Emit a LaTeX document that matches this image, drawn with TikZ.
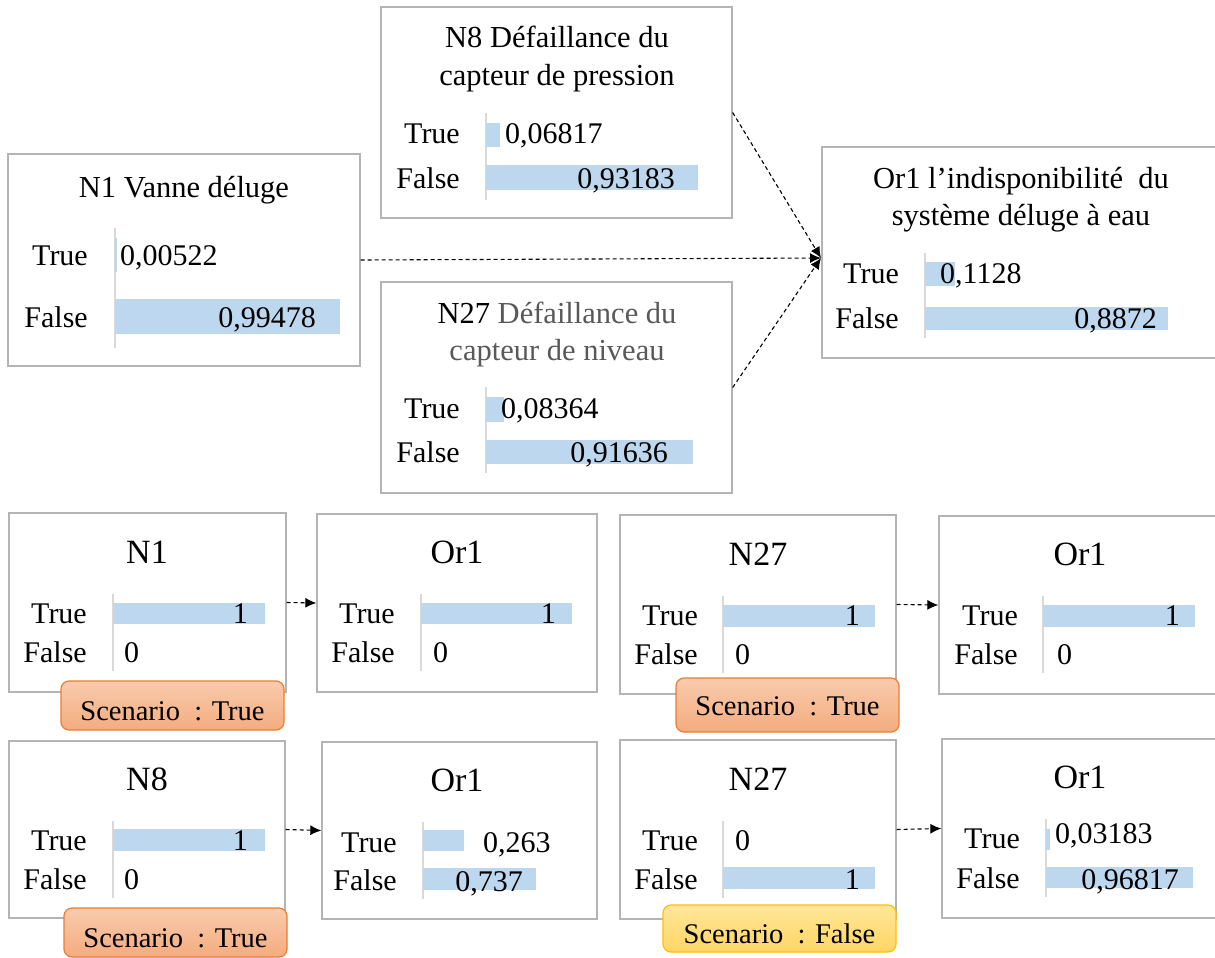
\documentclass[tikz,border=0pt]{standalone}
\usepackage{fontspec}
\setmainfont{Liberation Serif}
\usepackage{tikz}
\usetikzlibrary{arrows.meta,positioning}
\usepackage{xcolor}

\definecolor{boxgray}{RGB}{180,180,180}
\definecolor{axisgray}{RGB}{217,217,217}
\definecolor{barblue}{RGB}{189,215,238}
\definecolor{txtgray}{RGB}{89,89,89}
\definecolor{orangeline}{RGB}{237,125,49}
\definecolor{orangetop}{RGB}{248,203,173}
\definecolor{orangebot}{RGB}{244,172,126}
\definecolor{yellowline}{RGB}{255,192,0}
\definecolor{yellowtop}{RGB}{255,230,153}
\definecolor{yellowbot}{RGB}{255,214,100}

\tikzset{
  panel/.style={draw=boxgray, line width=1.3pt, fill=white, inner sep=0pt},
  headtxt/.style={font=\fontsize{30.5}{36}\selectfont, inner sep=0pt, anchor=base},
  bighead/.style={font=\fontsize{34}{40}\selectfont, inner sep=0pt, anchor=base},
  lbl/.style={font=\fontsize{30}{35}\selectfont, inner sep=0pt, anchor=base east},
  valr/.style={font=\fontsize{30}{35}\selectfont, inner sep=0pt, anchor=base east},
  vall/.style={font=\fontsize{30}{35}\selectfont, inner sep=0pt, anchor=base west},
  probbar/.style={fill=barblue},
  probaxis/.style={draw=axisgray, line width=1.4pt},
  link/.style={dash pattern=on 4pt off 3pt, line width=1.1pt, -{Latex[length=11pt,width=10pt]}},
  tagtrue/.style={draw=orangeline, line width=1.2pt, rounded corners=8pt, top color=orangetop, bottom color=orangebot, font=\fontsize{28.5}{34}\selectfont, inner sep=0pt},
  tagfalse/.style={draw=yellowline, line width=1.2pt, rounded corners=8pt, top color=yellowtop, bottom color=yellowbot, font=\fontsize{28.5}{34}\selectfont, inner sep=0pt}
}

\begin{document}
\begin{tikzpicture}[x=1pt, y=-1pt]
    \fill[white] (0,0) rectangle (1215,958);
    \useasboundingbox (0,0) rectangle (1215,958);

    % N1
    \node[panel, minimum width=352pt, minimum height=212pt] (n1) at (184,260) {};
    \node[headtxt] (n1t) at (184,197) {N1 Vanne déluge};
    \node[lbl] (n1y) at (88,265) {True};
    \node[lbl] (n1n) at (88,327) {False};
    \draw[probaxis] (115,228) -- (115,348);
    \fill[probbar] (115,238) rectangle (117,272);
    \fill[probbar] (115,299) rectangle (340,334);
    \node[vall] (n1yv) at (120,265) {0,00522};
    \node[valr] (n1nv) at (316,327) {0,99478};

    % N8
    \node[panel, minimum width=351pt, minimum height=211pt] (n8) at (556.5,112.5) {};
    \node[headtxt] (n8t) at (557,48) {N8 Défaillance du};
    \node[headtxt] (n8t2) at (557,85) {capteur de pression};
    \node[lbl] (n8y) at (460,143) {True};
    \node[lbl] (n8n) at (460,188) {False};
    \draw[probaxis] (486,113) -- (486,200);
    \fill[probbar] (486,123) rectangle (500,147);
    \fill[probbar] (486,165) rectangle (698,190);
    \node[vall] (n8yv) at (505,143) {0,06817};
    \node[valr] (n8nv) at (675,188) {0,93183};

    % N27
    \node[panel, minimum width=351pt, minimum height=211pt] (n27) at (556.5,387.5) {};
    \node[headtxt] (n27t) at (557,323) {N27 \textcolor{txtgray}{Défaillance du}};
    \node[headtxt, text=txtgray] (n27t2) at (557,360) {capteur de niveau};
    \node[lbl] (n27y) at (460,418) {True};
    \node[lbl] (n27n) at (460,462) {False};
    \draw[probaxis] (486,387) -- (486,473);
    \fill[probbar] (486,397) rectangle (504,422);
    \fill[probbar] (486,440) rectangle (693,464);
    \node[vall] (n27yv) at (501,418) {0,08364};
    \node[valr] (n27nv) at (668,462) {0,91636};

    % Or1
    \node[panel, minimum width=398pt, minimum height=211pt] (or1) at (1021,252.5) {};
    \node[headtxt] (or1t) at (1021,188) {Or1 l’indisponibilité~ du};
    \node[headtxt] (or1t2) at (1021,225) {système déluge à eau};
    \node[lbl] (or1y) at (899,283) {True};
    \node[lbl] (or1n) at (899,328) {False};
    \draw[probaxis] (925,253) -- (925,338);
    \fill[probbar] (925,262) rectangle (955,286);
    \fill[probbar] (925,307) rectangle (1168,330);
    \node[vall] (or1yv) at (940,283) {0,1128};
    \node[valr] (or1nv) at (1157,328) {0,8872};

    \coordinate (or1in) at (821,258);
    \draw[link] (n1.east) -- (or1in);
    \draw[link] (n8.east) -- (or1in);
    \draw[link] (n27.east) -- (or1in);

    % scenario N1 = True
    \node[panel, minimum width=277pt, minimum height=179pt] (n1a) at (147.5,602.5) {};
    \node[bighead] (n1at) at (147,563) {N1};
    \node[lbl] (n1ay) at (87,623) {True};
    \node[lbl] (n1an) at (87,662) {False};
    \draw[probaxis] (113,594) -- (113,671);
    \fill[probbar] (113,603) rectangle (265,624);
    \node[valr] (n1ayv) at (248,623) {1};
    \node[vall] (n1anv) at (124,662) {0};
    \node[tagtrue, minimum width=223pt, minimum height=49pt, text height=29pt, text depth=0pt] (tag1) at (172.5,705.5) {Scenario~ : True};

    \node[panel, minimum width=280pt, minimum height=178pt] (or1a) at (457,603) {};
    \node[bighead] (or1at) at (457,563) {Or1};
    \node[lbl] (or1ay) at (395,623) {True};
    \node[lbl] (or1an) at (395,662) {False};
    \draw[probaxis] (421,594) -- (421,671);
    \fill[probbar] (421,603) rectangle (572,624);
    \node[valr] (or1ayv) at (556,623) {1};
    \node[vall] (or1anv) at (433,662) {0};

    \draw[link] (n1a.east) -- (or1a.west);

    % scenario N27 = True
    \node[panel, minimum width=276pt, minimum height=179pt] (n27a) at (758,604.5) {};
    \node[bighead] (n27at) at (758,565) {N27};
    \node[lbl] (n27ay) at (698,625) {True};
    \node[lbl] (n27an) at (698,664) {False};
    \draw[probaxis] (723,596) -- (723,673);
    \fill[probbar] (723,605) rectangle (875,627);
    \node[valr] (n27ayv) at (860,625) {1};
    \node[vall] (n27anv) at (735,664) {0};
    \node[tagtrue, minimum width=223pt, minimum height=54pt, text height=21pt, text depth=0pt] (tag2) at (787.5,705) {Scenario~ : True};

    \node[panel, minimum width=279pt, minimum height=178pt] (or1b) at (1078.5,605) {};
    \node[bighead] (or1bt) at (1080,565) {Or1};
    \node[lbl] (or1by) at (1018,625) {True};
    \node[lbl] (or1bn) at (1018,664) {False};
    \draw[probaxis] (1043,596) -- (1043,673);
    \fill[probbar] (1043,605) rectangle (1195,627);
    \node[valr] (or1byv) at (1180,625) {1};
    \node[vall] (or1bnv) at (1057,664) {0};

    \draw[link] (n27a.east) -- (or1b.west);

    % scenario N8 = True
    \node[panel, minimum width=276pt, minimum height=177pt] (n8a) at (147,829.5) {};
    \node[bighead] (n8at) at (147,790) {N8};
    \node[lbl] (n8ay) at (87,850) {True};
    \node[lbl] (n8an) at (87,889) {False};
    \draw[probaxis] (113,821) -- (113,898);
    \fill[probbar] (113,829) rectangle (265,851);
    \node[valr] (n8ayv) at (248,850) {1};
    \node[vall] (n8anv) at (124,889) {0};
    \node[tagtrue, minimum width=223pt, minimum height=49pt, text height=29pt, text depth=0pt] (tag3) at (175.5,932.5) {Scenario~ : True};

    \node[panel, minimum width=275pt, minimum height=177pt] (or1c) at (459.5,830.5) {};
    \node[bighead] (or1ct) at (457,791) {Or1};
    \node[lbl] (or1cy) at (397,852) {True};
    \node[lbl] (or1cn) at (397,890) {False};
    \draw[probaxis] (423,822) -- (423,899);
    \fill[probbar] (423,830) rectangle (464,851);
    \fill[probbar] (423,868) rectangle (536,890);
    \node[vall] (or1cyv) at (483,852) {0,263};
    \node[valr] (or1cnv) at (523,891) {0,737};

    \draw[link] (n8a.east) -- (or1c.west);

    % scenario N27 = False
    \node[panel, minimum width=276pt, minimum height=179pt] (n27b) at (758,829.5) {};
    \node[bighead] (n27bt) at (758,790) {N27};
    \node[lbl] (n27by) at (698,850) {True};
    \node[lbl] (n27bn) at (698,889) {False};
    \draw[probaxis] (723,821) -- (723,898);
    \fill[probbar] (723,867) rectangle (875,889);
    \node[vall] (n27byv) at (735,850) {0};
    \node[valr] (n27bnv) at (860,889) {1};
    \node[tagfalse, minimum width=233pt, minimum height=47pt, text height=29pt, text depth=0pt] (tag4) at (779.5,928.5) {Scenario~ : False};

    \node[panel, minimum width=276pt, minimum height=179pt] (or1d) at (1080,828.5) {};
    \node[bighead] (or1dt) at (1080,788) {Or1};
    \node[lbl] (or1dy) at (1020,848) {True};
    \node[lbl] (or1dn) at (1020,888) {False};
    \draw[probaxis] (1046,819) -- (1046,897);
    \fill[probbar] (1046,829) rectangle (1050,850);
    \fill[probbar] (1046,867) rectangle (1193,888);
    \node[vall] (or1dyv) at (1055,843) {0,03183};
    \node[valr] (or1dnv) at (1179,889) {0,96817};

    \draw[link] (n27b.east) -- (or1d.west);
\end{tikzpicture}
\end{document}
